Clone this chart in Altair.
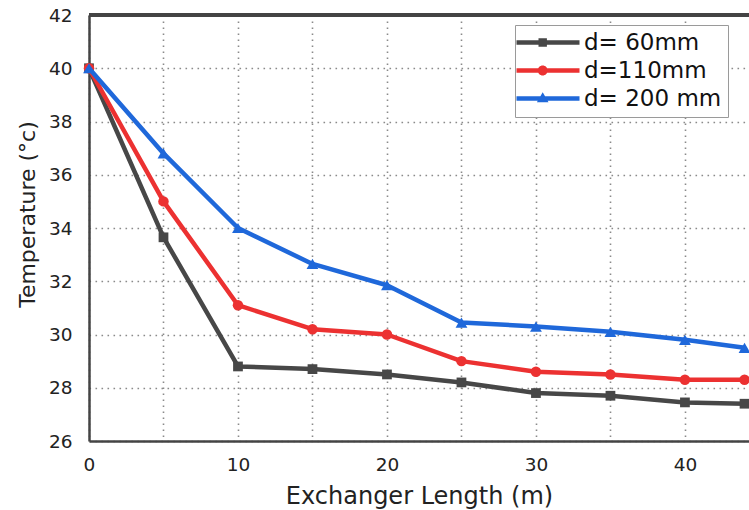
import altair as alt
import pandas as pd

# Exchanger length (m) and outlet temperature (°c) for three pipe diameters
lengths = [0, 5, 10, 15, 20, 25, 30, 35, 40, 44]
t_60 = [40.0, 33.65, 28.8, 28.7, 28.5, 28.2, 27.8, 27.7, 27.45, 27.4]
t_110 = [40.0, 35.0, 31.1, 30.2, 30.0, 29.0, 28.6, 28.5, 28.3, 28.3]
t_200 = [40.0, 36.8, 34.0, 32.65, 31.85, 30.45, 30.3, 30.1, 29.8, 29.5]

series_names = ["d= 60mm", "d=110mm", "d= 200 mm"]
series_colors = ["#474747", "#ec3131", "#1f68da"]
series_shapes = ["square", "circle", "triangle-up"]
series_sizes = [95, 110, 140]

x_ticks = [0, 5, 10, 15, 20, 25, 30, 35, 40]
y_ticks = [26, 28, 30, 32, 34, 36, 38, 40, 42]

rows = []
for name, temps in zip(series_names, [t_60, t_110, t_200]):
    for x, t in zip(lengths, temps):
        rows.append({"length": x, "temp": t, "series": name})
df = pd.DataFrame(rows)

FONT = "DejaVu Sans"

x_enc = alt.X(
    "length:Q",
    scale=alt.Scale(domain=[0, 44.3], nice=False, zero=False),
    axis=alt.Axis(
        values=x_ticks,
        labelExpr="datum.value % 10 == 0 ? datum.label : ''",
        labelFlush=False,
        title="Exchanger Length (m)",
        titleY=62,
        titleBaseline="alphabetic",
        labelPadding=14,
    ),
)
y_enc = alt.Y(
    "temp:Q",
    scale=alt.Scale(domain=[26, 42], nice=False, zero=False),
    axis=alt.Axis(
        values=y_ticks,
        title="Temperature (°c)",
        titleX=-55,
        titleY=199,
        titleBaseline="alphabetic",
        labelPadding=17,
    ),
)

# legend glyphs: a thick line segment with the series marker on it
line_part = "M-1.6,-0.225H4.7V0.225H-1.6Z"
legend_paths = [
    line_part + " M0.6,-0.42H1.44V0.42H0.6Z",
    line_part + " M1.52,0 A0.5,0.5 0 1,1 0.52,0 A0.5,0.5 0 1,1 1.52,0Z",
    line_part + " M1.02,-0.62 L1.6,0.38 L0.44,0.38Z",
]

legend_def = alt.Legend(
    title=None,
    orient="none",
    legendX=426,
    legendY=10,
    padding=6,
    symbolSize=400,
    symbolStrokeWidth=0,
    symbolOpacity=1,
    labelFont=FONT,
    labelFontSize=23,
    labelColor="#111111",
    labelOffset=40,
    rowPadding=4,
    strokeColor="#9a9a9a",
    fillColor="white",
    cornerRadius=0,
    labelLimit=300,
)

layers = []

# top frame line
layers.append(
    alt.Chart(df).mark_rule(color="#444444", strokeWidth=2.5).encode(y=alt.datum(42))
)

for name, color, shape, size in zip(series_names, series_colors, series_shapes, series_sizes):
    layers.append(
        alt.Chart(df)
        .transform_filter(alt.datum.series == name)
        .mark_line(
            color=color,
            strokeWidth=4.5,
            strokeJoin="round",
            point=alt.OverlayMarkDef(shape=shape, size=size, filled=True, color=color),
        )
        .encode(x=x_enc, y=y_enc)
    )

# legend-only layer: filtered to no rows, so it draws nothing on the plot
layers.append(
    alt.Chart(df)
    .transform_filter("false")
    .mark_point(filled=True, size=400)
    .encode(
        x="length:Q",
        y="temp:Q",
        color=alt.Color(
            "series:N",
            scale=alt.Scale(domain=series_names, range=series_colors),
            legend=legend_def,
        ),
        shape=alt.Shape(
            "series:N",
            scale=alt.Scale(domain=series_names, range=legend_paths),
            legend=legend_def,
        ),
    )
)

chart = (
    alt.layer(*layers)
    .properties(
        width=660,
        height=426,
        autosize=alt.AutoSizeParams(type="none"),
        padding={"left": 89, "top": 15, "right": 0, "bottom": 69},
    )
    .configure_view(stroke=None)
    .configure_axis(
        labelFont=FONT,
        labelFontSize=18.5,
        labelColor="#222222",
        titleFont=FONT,
        titleColor="#222222",
        titleFontWeight="normal",
        domainColor="#444444",
        domainWidth=2.5,
        ticks=False,
        grid=True,
        gridColor="#8a8a8a",
        gridWidth=1.6,
        gridDash=[1.6, 4.4],
    )
    .configure_axisX(titleFontSize=24)
    .configure_axisY(titleFontSize=22)
)

chart.save("out.html", embed_options={"renderer": "svg", "actions": False})
